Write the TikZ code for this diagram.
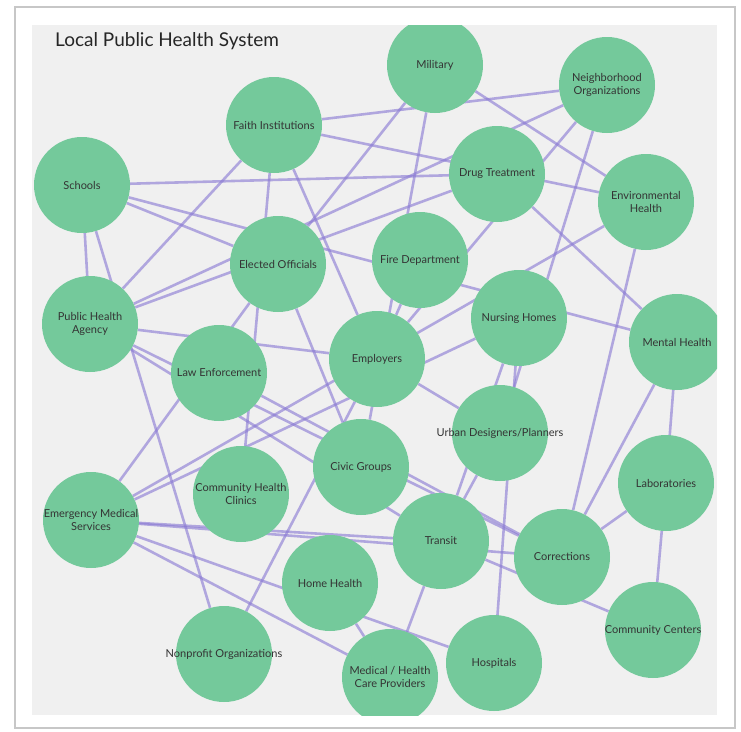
\documentclass[tikz,border=0pt]{standalone}
\usepackage{fontspec}
\setmainfont{Lato}
\definecolor{panelgray}{RGB}{240,240,240}
\definecolor{orggreen}{RGB}{116,201,155}
\definecolor{tiepurple}{RGB}{138,122,212}
\definecolor{labelgray}{RGB}{52,52,52}
\pgfdeclarelayer{panel}
\pgfdeclarelayer{ties}
\pgfsetlayers{panel,ties,main}

\begin{document}
\begin{tikzpicture}[x=1pt, y=-1pt,
  org/.style={circle, fill=orggreen, minimum size=96pt, inner sep=0pt},
  orgtext/.style={font=\fontsize{11}{12.5}\selectfont, text=labelgray, align=center, inner sep=0pt},
  tie/.style={draw=tiepurple, line width=2.6pt, opacity=0.62}]

  \begin{pgfonlayer}{panel}
    \fill[white] (0,0) rectangle (741,731);
    \draw[black!22, line width=1.6pt] (15,7) rectangle (735,728);
    \fill[panelgray] (32,25) rectangle (717,715);
  \end{pgfonlayer}

  \node[anchor=base west, inner sep=0pt, font=\fontsize{19}{22}\selectfont, text=black!85] (title) at (55,46) {Local Public Health System};

  \begin{scope}
    \clip (32,25) rectangle (717,715);
    \node[org, label={[orgtext]center:Military}] (military) at (435,65) {};
    \node[org, label={[orgtext]center:Neighborhood\\Organizations}] (neighborhood) at (607,85) {};
    \node[org, label={[orgtext]center:Faith Institutions}] (faith) at (274,125) {};
    \node[org, label={[orgtext]center:Schools}] (schools) at (82,185) {};
    \node[org, label={[orgtext]center:Drug Treatment}] (drug) at (497,174) {};
    \node[org, label={[orgtext]center:Environmental\\Health}] (env) at (646,202) {};
    \node[org, label={[orgtext]center:Elected Officials}] (elected) at (278,264) {};
    \node[org, label={[orgtext]center:Fire Department}] (fire) at (420,260) {};
    \node[org, label={[orgtext]center:Public Health\\Agency}] (pha) at (90,324) {};
    \node[org, label={[orgtext]center:Nursing Homes}] (nursing) at (519,318) {};
    \node[org, label={[orgtext]center:Mental Health}] (mental) at (677,342) {};
    \node[org, label={[orgtext]center:Law Enforcement}] (law) at (219,373) {};
    \node[org, label={[orgtext]center:Employers}] (employers) at (377,359) {};
    \node[org, label={[orgtext]center:Urban Designers/Planners}] (urban) at (500,433) {};
    \node[org, label={[orgtext]center:Civic Groups}] (civic) at (361,467) {};
    \node[org, label={[orgtext]center:Laboratories}] (labs) at (666,483) {};
    \node[org, label={[orgtext]center:Community Health\\Clinics}] (clinics) at (241,494) {};
    \node[org, label={[orgtext]center:Emergency Medical\\Services}] (ems) at (91,520) {};
    \node[org, label={[orgtext]center:Transit}] (transit) at (441,541) {};
    \node[org, label={[orgtext]center:Corrections}] (corrections) at (562,557) {};
    \node[org, label={[orgtext]center:Home Health}] (homehealth) at (330,583) {};
    \node[org, label={[orgtext]center:Community Centers}] (commcenters) at (653,630) {};
    \node[org, label={[orgtext]center:Nonprofit Organizations}] (nonprofit) at (224,654) {};
    \node[org, label={[orgtext]center:Medical / Health\\Care Providers}] (medical) at (390,677) {};
    \node[org, label={[orgtext]center:Hospitals}] (hospitals) at (494,663) {};
  \end{scope}

  \begin{pgfonlayer}{ties}
    \draw[tie] (schools) -- (pha);   \draw[tie] (schools) -- (nonprofit);
    \draw[tie] (schools) -- (drug);  \draw[tie] (schools) -- (elected);
    \draw[tie] (schools) -- (mental);
    \draw[tie] (faith) -- (neighborhood);  \draw[tie] (faith) -- (env);
    \draw[tie] (faith) -- (pha);  \draw[tie] (faith) -- (employers);
    \draw[tie] (clinics) -- (faith);
    \draw[tie] (military) -- (elected);  \draw[tie] (military) -- (civic);
    \draw[tie] (military) -- (env);
    \draw[tie] (pha) -- (neighborhood);  \draw[tie] (pha) -- (drug);
    \draw[tie] (pha) -- (employers);  \draw[tie] (pha) -- (corrections);
    \draw[tie] (pha) -- (transit);
    \draw[tie] (neighborhood) -- (employers);  \draw[tie] (neighborhood) -- (urban);
    \draw[tie] (drug) -- (mental);
    \draw[tie] (ems) -- (elected);  \draw[tie] (ems) -- (env);
    \draw[tie] (ems) -- (nursing);  \draw[tie] (ems) -- (transit);
    \draw[tie] (ems) -- (corrections);  \draw[tie] (ems) -- (hospitals);
    \draw[tie] (ems) -- (medical);
    \draw[tie] (elected) -- (civic);  \draw[tie] (fire) -- (employers);
    \draw[tie] (law) -- (corrections);
    \draw[tie] (employers) -- (urban);  \draw[tie] (nonprofit) -- (employers);
    \draw[tie] (nursing) -- (hospitals);  \draw[tie] (nursing) -- (transit);
    \draw[tie] (urban) -- (transit);  \draw[tie] (transit) -- (medical);
    \draw[tie] (transit) -- (commcenters);  \draw[tie] (homehealth) -- (medical);
    \draw[tie] (env) -- (corrections);  \draw[tie] (mental) -- (corrections);
    \draw[tie] (mental) -- (labs);  \draw[tie] (labs) -- (corrections);
    \draw[tie] (labs) -- (commcenters);
  \end{pgfonlayer}
\end{tikzpicture}
\end{document}
